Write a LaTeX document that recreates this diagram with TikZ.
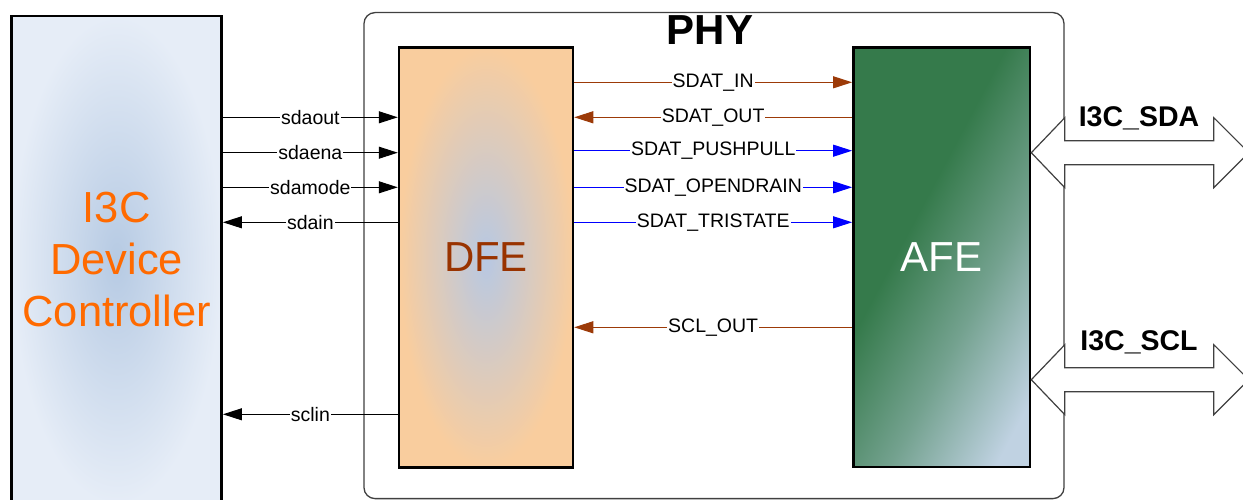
\documentclass[tikz,border=0pt]{standalone}
\usepackage{fontspec}
\setmainfont{Liberation Sans}
\usetikzlibrary{arrows.meta}
\definecolor{ctrlIn}{HTML}{B6CAE3}
\definecolor{ctrlOut}{HTML}{E6EDF7}
\definecolor{dfeOut}{HTML}{F9CD9E}
\definecolor{dfeIn}{HTML}{B7C8E3}
\definecolor{afeDark}{HTML}{357A4B}
\definecolor{afeLight}{HTML}{C0D2E2}
\definecolor{brownln}{HTML}{9C3A08}
\definecolor{orangetxt}{HTML}{FF6A00}
\definecolor{dfetxt}{HTML}{993300}
\definecolor{phygray}{HTML}{404040}
\pgfdeclareverticalshading{afeshade}{100bp}{color(0bp)=(afeLight); color(22bp)=(afeLight); color(40bp)=(afeLight!45!afeDark); color(58bp)=(afeDark); color(100bp)=(afeDark)}
\tikzset{
  block/.style={draw=black, line width=2.5pt, inner sep=0pt},
  lbl/.style={fill=white, inner sep=1pt, text=black, font=\fontsize{19.5}{20}\selectfont},
  sig/.style={line width=1pt, -{Triangle[length=19pt,width=12pt]}},
  dbl/.style={draw=phygray, fill=white, line width=1.2pt, line join=miter},
  biglbl/.style={font=\bfseries\fontsize{28.5}{30}\selectfont, inner sep=0pt}
}
\begin{document}
\begin{tikzpicture}[x=1pt,y=-1pt]
\useasboundingbox (0,0) rectangle (1243,500);
\fill[white] (0,0) rectangle (1243,500);
\clip (0,0) rectangle (1243,500);

% controller
\node[block, inner color=ctrlIn, outer color=ctrlOut, minimum width=210pt, minimum height=488pt,
      align=center, text=orangetxt, font=\fontsize{43.5}{52}\selectfont] (ctrl) at (116.7,260)
      {I3C\\Device\\Controller};

% PHY container
\node[draw=phygray, line width=1.3pt, rounded corners=11pt, minimum width=700pt, minimum height=486pt, inner sep=0pt] (phy) at (714,255.6) {};
\node[font=\bfseries\fontsize{42}{44}\selectfont, inner sep=0pt] (phylbl) at (710,30) {PHY};

% DFE
\node[block, inner color=dfeIn, outer color=dfeOut, minimum width=174pt, minimum height=419.6pt,
      text=dfetxt, font=\fontsize{42}{44}\selectfont] (dfe) at (486,257.5) {DFE};

% AFE
\node[block, shading=afeshade, shading angle=62, minimum width=176.7pt, minimum height=419.3pt,
      text=white, font=\fontsize{42}{44}\selectfont] (afe) at (941.7,257.3) {AFE};

% left signals
\draw[sig] (ctrl.east |- 0,117.3) -- node[lbl]{sdaout} (dfe.west |- 0,117.3);
\draw[sig] (ctrl.east |- 0,152.7) -- node[lbl]{sdaena} (dfe.west |- 0,152.7);
\draw[sig] (ctrl.east |- 0,187.3) -- node[lbl]{sdamode} (dfe.west |- 0,187.3);
\draw[sig] (dfe.west |- 0,222.3) -- node[lbl]{sdain} (ctrl.east |- 0,222.3);
\draw[sig] (dfe.west |- 0,414.3) -- node[lbl]{sclin} (ctrl.east |- 0,414.3);

% right signals
\draw[sig, brownln] (dfe.east |- 0,82.3) -- node[lbl]{SDAT\_IN} (afe.west |- 0,82.3);
\draw[sig, brownln] (afe.west |- 0,117.3) -- node[lbl]{SDAT\_OUT} (dfe.east |- 0,117.3);
\draw[sig, blue] (dfe.east |- 0,150.7) -- node[lbl]{SDAT\_PUSHPULL} (afe.west |- 0,150.7);
\draw[sig, blue] (dfe.east |- 0,187.3) -- node[lbl]{SDAT\_OPENDRAIN} (afe.west |- 0,187.3);
\draw[sig, blue] (dfe.east |- 0,222.3) -- node[lbl]{SDAT\_TRISTATE} (afe.west |- 0,222.3);
\draw[sig, brownln] (afe.west |- 0,327.3) -- node[lbl]{SCL\_OUT} (dfe.east |- 0,327.3);

% bidirectional bus arrows
\coordinate (sdaTip) at (afe.east |- 0,152.7);
\coordinate (sclTip) at (afe.east |- 0,379.7);
\draw[dbl] (sdaTip) -- ++(33.5,-35) -- ++(0,23) -- ++(149,0) -- ++(0,-23) -- ++(35,35)
  -- ++(-35,35) -- ++(0,-23) -- ++(-149,0) -- ++(0,23) -- cycle;
\draw[dbl] (sclTip) -- ++(33.5,-35) -- ++(0,23) -- ++(149,0) -- ++(0,-23) -- ++(35,35)
  -- ++(-35,35) -- ++(0,-23) -- ++(-149,0) -- ++(0,23) -- cycle;
\node[biglbl] (sdalbl) at (1139,118) {I3C\_SDA};
\node[biglbl] (scllbl) at (1139,342) {I3C\_SCL};
\end{tikzpicture}
\end{document}
